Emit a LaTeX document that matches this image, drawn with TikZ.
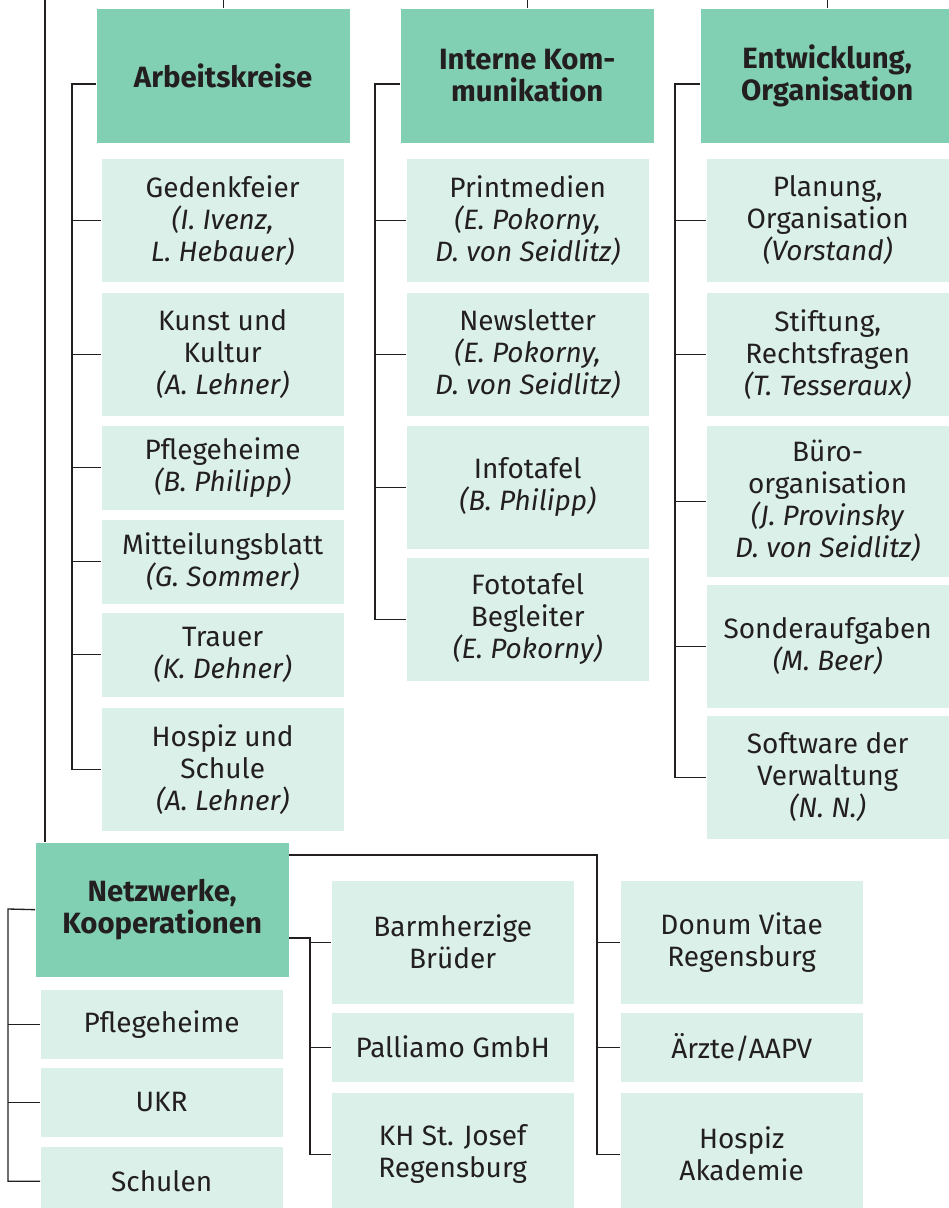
\documentclass[tikz,border=0pt]{standalone}
\usepackage{fontspec}
\setmainfont{Fira Sans}
\usetikzlibrary{positioning,calc}
\definecolor{headgreen}{HTML}{82D0B4}
\definecolor{itemgreen}{HTML}{DAF0E8}
\definecolor{ink}{HTML}{231F20}

\begin{document}
\begin{tikzpicture}[x=0.75pt, y=-0.75pt, line width=1pt, color=ink,
    head/.style={fill=headgreen, anchor=north west, inner sep=0pt, minimum width=189.75pt,
      minimum height=100.5pt, align=center, font=\fontsize{22}{24}\selectfont\bfseries},
    item/.style={fill=itemgreen, anchor=north west, inner sep=0pt, minimum width=181.5pt,
      align=center, font=\fontsize{21}{24}\selectfont},
    tall/.style={item, minimum height=92.25pt},
    low/.style={item, minimum height=63pt},
    flat/.style={item, minimum height=51.75pt}]
  \useasboundingbox (0,0) rectangle (949,1208);

  % Arbeitskreise
  \node[head] (ak) at (96,8) {Arbeitskreise};
  \node[tall] (ak1) at (101,158) {Gedenkfeier\\\textit{(I. Ivenz,}\\\textit{L. Hebauer)}};
  \node[tall] (ak2) at (101,292) {Kunst und\\Kultur\\\textit{(A. Lehner)}};
  \node[low] (ak3) at (101,425) {Pflegeheime\\\textit{(B. Philipp)}};
  \node[low] (ak4) at (101,519) {Mitteilungsblatt\\\textit{(G. Sommer)}};
  \node[low] (ak5) at (101,612) {Trauer\\\textit{(K. Dehner)}};
  \node[tall] (ak6) at (101,707) {Hospiz und\\Schule\\\textit{(A. Lehner)}};

  % Interne Kommunikation
  \node[head] (ik) at (400,8) {Interne Kom-\\munikation};
  \node[tall] (ik1) at (406,158) {Printmedien\\\textit{(E. Pokorny,}\\\textit{D. von Seidlitz)}};
  \node[tall] (ik2) at (406,292) {Newsletter\\\textit{(E. Pokorny,}\\\textit{D. von Seidlitz)}};
  \node[tall] (ik3) at (406,425) {Infotafel\\\textit{(B. Philipp)}};
  \node[tall] (ik4) at (406,557) {Fototafel\\Begleiter\\\textit{(E. Pokorny)}};

  % Entwicklung, Organisation
  \node[head] (eo) at (700,8) {Entwicklung,\\Organisation};
  \node[tall] (eo1) at (706,158) {Planung,\\Organisation\\\textit{(Vorstand)}};
  \node[tall] (eo2) at (706,292) {Stiftung,\\Rechtsfragen\\\textit{(T. Tesseraux)}};
  \node[item, minimum height=113.25pt] (eo3) at (706,425) {Büro-\\organisation\\\textit{(J. Provinsky}\\\textit{D. von Seidlitz)}};
  \node[tall] (eo4) at (706,584) {Sonderaufgaben\\\textit{(M. Beer)}};
  \node[tall] (eo5) at (706,715) {Software der\\Verwaltung\\\textit{(N. N.)}};

  % Netzwerke, Kooperationen
  \node[head] (nk) at (35,842) {Netzwerke,\\Kooperationen};
  \node[flat] (nk1) at (40,989) {Pflegeheime};
  \node[flat] (nk2) at (40,1067) {UKR};
  \node[flat] (nk3) at (40,1146) {Schulen};
  \node[tall] (nb1) at (331,880) {Barmherzige\\Brüder};
  \node[flat] (nb2) at (331,1012) {Palliamo GmbH};
  \node[tall] (nb3) at (331,1092) {KH St. Josef\\Regensburg};
  \node[tall] (nd1) at (620,880) {Donum Vitae\\Regensburg};
  \node[flat] (nd2) at (620,1012) {Ärzte/AAPV};
  \node[tall] (nd3) at (620,1092) {Hospiz\\Akademie};

  % lines from above
  \draw (ak.north) -- (ak.north |- 0,0);
  \draw (ik.north) -- (ik.north |- 0,0);
  \draw (eo.north) -- (eo.north |- 0,0);
  \coordinate (spine) at (45,0);
  \draw (spine) -- (spine |- nk.north);

  % brackets
  \coordinate (akb) at (72,84);
  \draw (akb -| ak.west) -- (akb) |- (ak6.west);
  \foreach \i in {1,...,5} \draw (akb |- ak\i.west) -- (ak\i.west);
  \coordinate (ikb) at (375,84);
  \draw (ikb -| ik.west) -- (ikb) |- (ik4.west);
  \foreach \i in {1,2,3} \draw (ikb |- ik\i.west) -- (ik\i.west);
  \coordinate (eob) at (675,84);
  \draw (eob -| eo.west) -- (eob) |- (eo5.west);
  \foreach \i in {1,...,4} \draw (eob |- eo\i.west) -- (eo\i.west);

  \coordinate (nkb) at (8,909);
  \draw (nk.west) -- (nkb) |- (nk3.west);
  \foreach \i in {1,2} \draw (nkb |- nk\i.west) -- (nk\i.west);
  \coordinate (nbb) at (310,938);
  \draw (nbb -| nk.east) -- (nbb) |- (nb3.west);
  \foreach \i in {1,2} \draw (nbb |- nb\i.west) -- (nb\i.west);
  \coordinate (ndb) at (597,855);
  \draw (ndb -| nk.east) -- (ndb) |- (nd3.west);
  \foreach \i in {1,2} \draw (ndb |- nd\i.west) -- (nd\i.west);
\end{tikzpicture}
\end{document}
